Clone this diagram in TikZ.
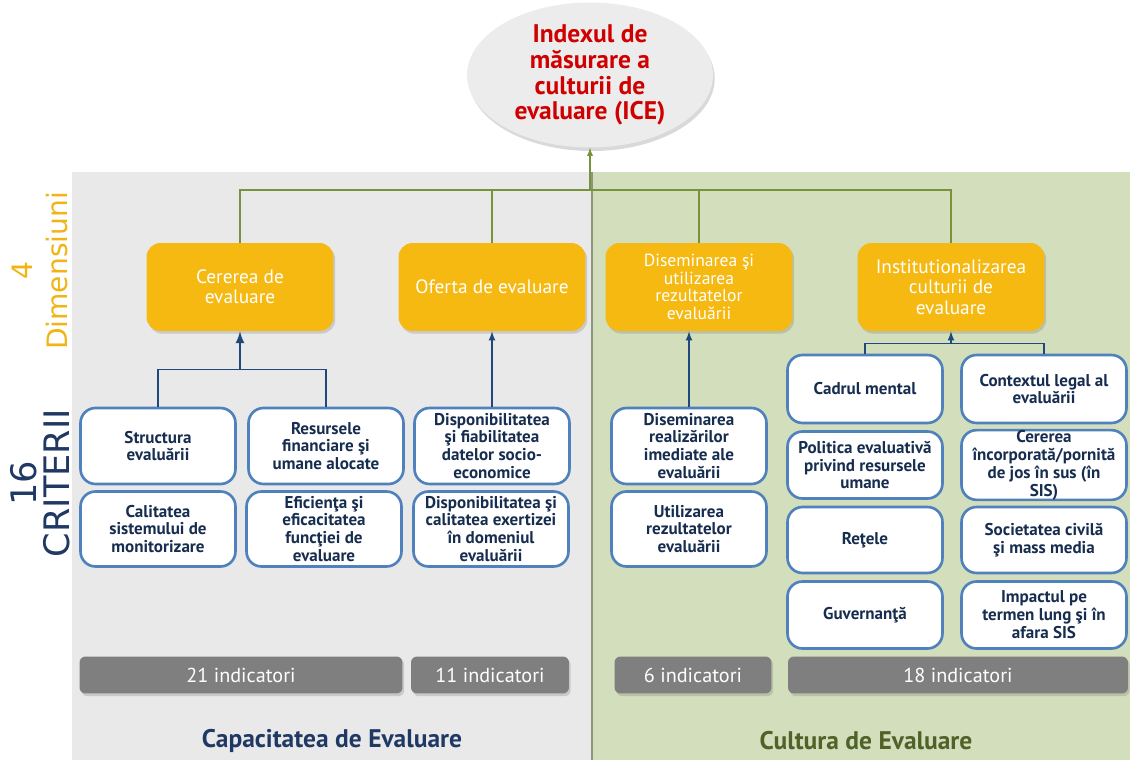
\documentclass[tikz,border=0pt]{standalone}
\usepackage{fontspec}
\setmainfont{PT Sans}
\newfontfamily\sidefont{DejaVu Sans}
\usetikzlibrary{shapes.geometric,shadows}

\definecolor{dimyellow}{RGB}{245,185,18}
\definecolor{labyellow}{RGB}{240,180,20}
\definecolor{ellgray}{RGB}{236,236,236}
\definecolor{indexred}{RGB}{208,0,0}
\definecolor{bggray}{RGB}{233,233,233}
\definecolor{bggreen}{RGB}{211,222,188}
\definecolor{divider}{RGB}{140,150,125}
\definecolor{critblue}{RGB}{79,129,189}
\definecolor{crittext}{RGB}{23,45,80}
\definecolor{arrowblue}{RGB}{31,73,125}
\definecolor{linegreen}{RGB}{119,147,60}
\definecolor{indgray}{RGB}{127,127,127}
\definecolor{capblue}{RGB}{31,56,100}
\definecolor{cultgreen}{RGB}{79,98,40}

\begin{document}
\begin{tikzpicture}[x=0.02cm,y=-0.02cm]
            \tikzstyle{every node}+=[inner sep=0pt]
            \tikzstyle{dimbox}=[fill=dimyellow, rounded corners=0.28cm, minimum width=3.74cm, minimum height=1.76cm, text=white, align=center, font=\fontsize{11}{11.6}\selectfont, drop shadow={shadow xshift=1pt, shadow yshift=-1.5pt, opacity=0.3}]
            \tikzstyle{critbox}=[draw=critblue, line width=1.5pt, fill=white, rounded corners=0.3cm, minimum width=3.1cm, align=center, text=crittext, font=\bfseries\fontsize{9.7}{10.2}\selectfont]
            \tikzstyle{indbox}=[fill=indgray, rounded corners=0.12cm, minimum height=0.74cm, text=white, font=\fontsize{11.5}{12}\selectfont, drop shadow={shadow xshift=1pt, shadow yshift=-1.5pt, opacity=0.3}]
            \tikzstyle{greenline}=[draw=linegreen, line width=0.6pt]
            \tikzstyle{bluearrow}=[draw=arrowblue, line width=0.8pt, -latex]
            \useasboundingbox (0,0) rectangle (1130,760);
            % two halves
            \fill [bggray] (72,172) rectangle (592,760);
            \fill [bggreen] (592,172) rectangle (1130,760);
            \draw [divider, line width=1.2pt] (592,172) -- (592,760);
            % index
            \node [ellipse, fill=ellgray, minimum width=4.92cm, minimum height=2.9cm, text=indexred, align=center, font=\bfseries\fontsize{14.5}{14.7}\selectfont, drop shadow={shadow xshift=1pt, shadow yshift=-2pt, opacity=0.3}] (ice) at (590,75) {Indexul de\\măsurare a\\culturii de\\evaluare (ICE)};
            % dimensions
            \node [dimbox] (dim1) at (240,287) {Cererea de\\evaluare};
            \node [dimbox] (dim2) at (492,287) {Oferta de evaluare};
            \node [dimbox, font=\fontsize{10}{10}\selectfont] (dim3) at (699,287) {Diseminarea şi\\utilizarea\\rezultatelor\\evaluării};
            \node [dimbox] (dim4) at (951,287) {Institutionalizarea\\culturii de\\evaluare};
            \coordinate (gj) at (590,190);
            \draw [greenline] (dim1.north) |- (gj) -| (dim4.north);
            \draw [greenline] (dim2.north) |- (gj);
            \draw [greenline] (dim3.north) |- (gj);
            \draw [greenline, -latex] (gj) -- (ice.south);
            % criteria, capacity
            \node [critbox, minimum height=1.52cm] (c11) at (158,446) {Structura\\evaluării};
            \node [critbox, minimum height=1.52cm] (c12) at (326,446) {Resursele\\financiare şi\\umane alocate};
            \node [critbox, minimum height=1.52cm] (c13) at (492,446) {Disponibilitatea\\şi fiabilitatea\\datelor socio-\\economice};
            \node [critbox, minimum height=1.5cm] (c21) at (158,529) {Calitatea\\sistemului de\\monitorizare};
            \node [critbox, minimum height=1.5cm] (c22) at (324,529) {Eficienţa şi\\eficacitatea\\funcţiei de\\evaluare};
            \node [critbox, minimum height=1.5cm] (c23) at (491,529) {Disponibilitatea şi\\calitatea exertizei\\în domeniul\\evaluării};
            % criteria, culture
            \node [critbox, minimum height=1.52cm] (d1) at (689,446) {Diseminarea\\realizărilor\\imediate ale\\evaluării};
            \node [critbox, minimum height=1.5cm] (d2) at (689,529) {Utilizarea\\rezultatelor\\evaluării};
            \node [critbox, minimum height=1.36cm] (a1) at (865,389) {Cadrul mental};
            \node [critbox, minimum height=1.34cm] (a2) at (865,465) {Politica evaluativă\\privind resursele\\umane};
            \node [critbox, minimum height=1.32cm] (a3) at (865,540) {Reţele};
            \node [critbox, minimum height=1.34cm] (a4) at (865,615) {Guvernanţă};
            \node [critbox, minimum height=1.36cm, minimum width=3.3cm] (b1) at (1044,389) {Contextul legal al\\evaluării};
            \node [critbox, minimum height=1.34cm, minimum width=3.3cm] (b2) at (1044,465) {Cererea\\încorporată/pornită\\de jos în sus (în\\SIS)};
            \node [critbox, minimum height=1.32cm, minimum width=3.3cm] (b3) at (1044,540) {Societatea civilă\\şi mass media};
            \node [critbox, minimum height=1.34cm, minimum width=3.3cm] (b4) at (1044,615) {Impactul pe\\termen lung şi în\\afara SIS};
            % blue links
            \path (dim1.south) ++(0,38) coordinate (cj);
            \draw [draw=arrowblue, line width=0.8pt] (c11.north) |- (cj) -| (c12.north);
            \draw [bluearrow, line width=1.3pt] (cj) -- (dim1.south);
            \draw [bluearrow] (c13.north) -- (dim2.south);
            \draw [bluearrow] (d1.north) -- (d1.north |- dim3.south);
            \path (dim4.south) ++(0,12) coordinate (ij);
            \draw [draw=arrowblue, line width=0.8pt] (a1.north) |- (ij) -| (b1.north);
            \draw [bluearrow] (ij) -- (dim4.south);
            % indicators
            \node [indbox, minimum width=6.46cm] (ind1) at (241,675) {21 indicatori};
            \node [indbox, minimum width=3.16cm] (ind2) at (490,675) {11 indicatori};
            \node [indbox, minimum width=3.14cm] (ind3) at (693,675) {6 indicatori};
            \node [indbox, minimum width=6.8cm] (ind4) at (958,675) {18 indicatori};
            % side and bottom labels
            \node [rotate=90, align=center, text=labyellow, font=\sidefont\fontsize{16}{20}\selectfont] (ldim) at (40,271) {4\\Dimensiuni};
            \node [rotate=90, align=center, text=capblue, font=\sidefont\fontsize{20}{19}\selectfont] (lcrit) at (40,483) {16\\CRITERII};
            \node [text=capblue, font=\bfseries\fontsize{14.5}{16}\selectfont] (cap) at (332,741) {Capacitatea de Evaluare};
            \node [text=cultgreen, font=\bfseries\fontsize{14.5}{16}\selectfont] (cult) at (866,741) {Cultura de Evaluare};
\end{tikzpicture}
\end{document}
